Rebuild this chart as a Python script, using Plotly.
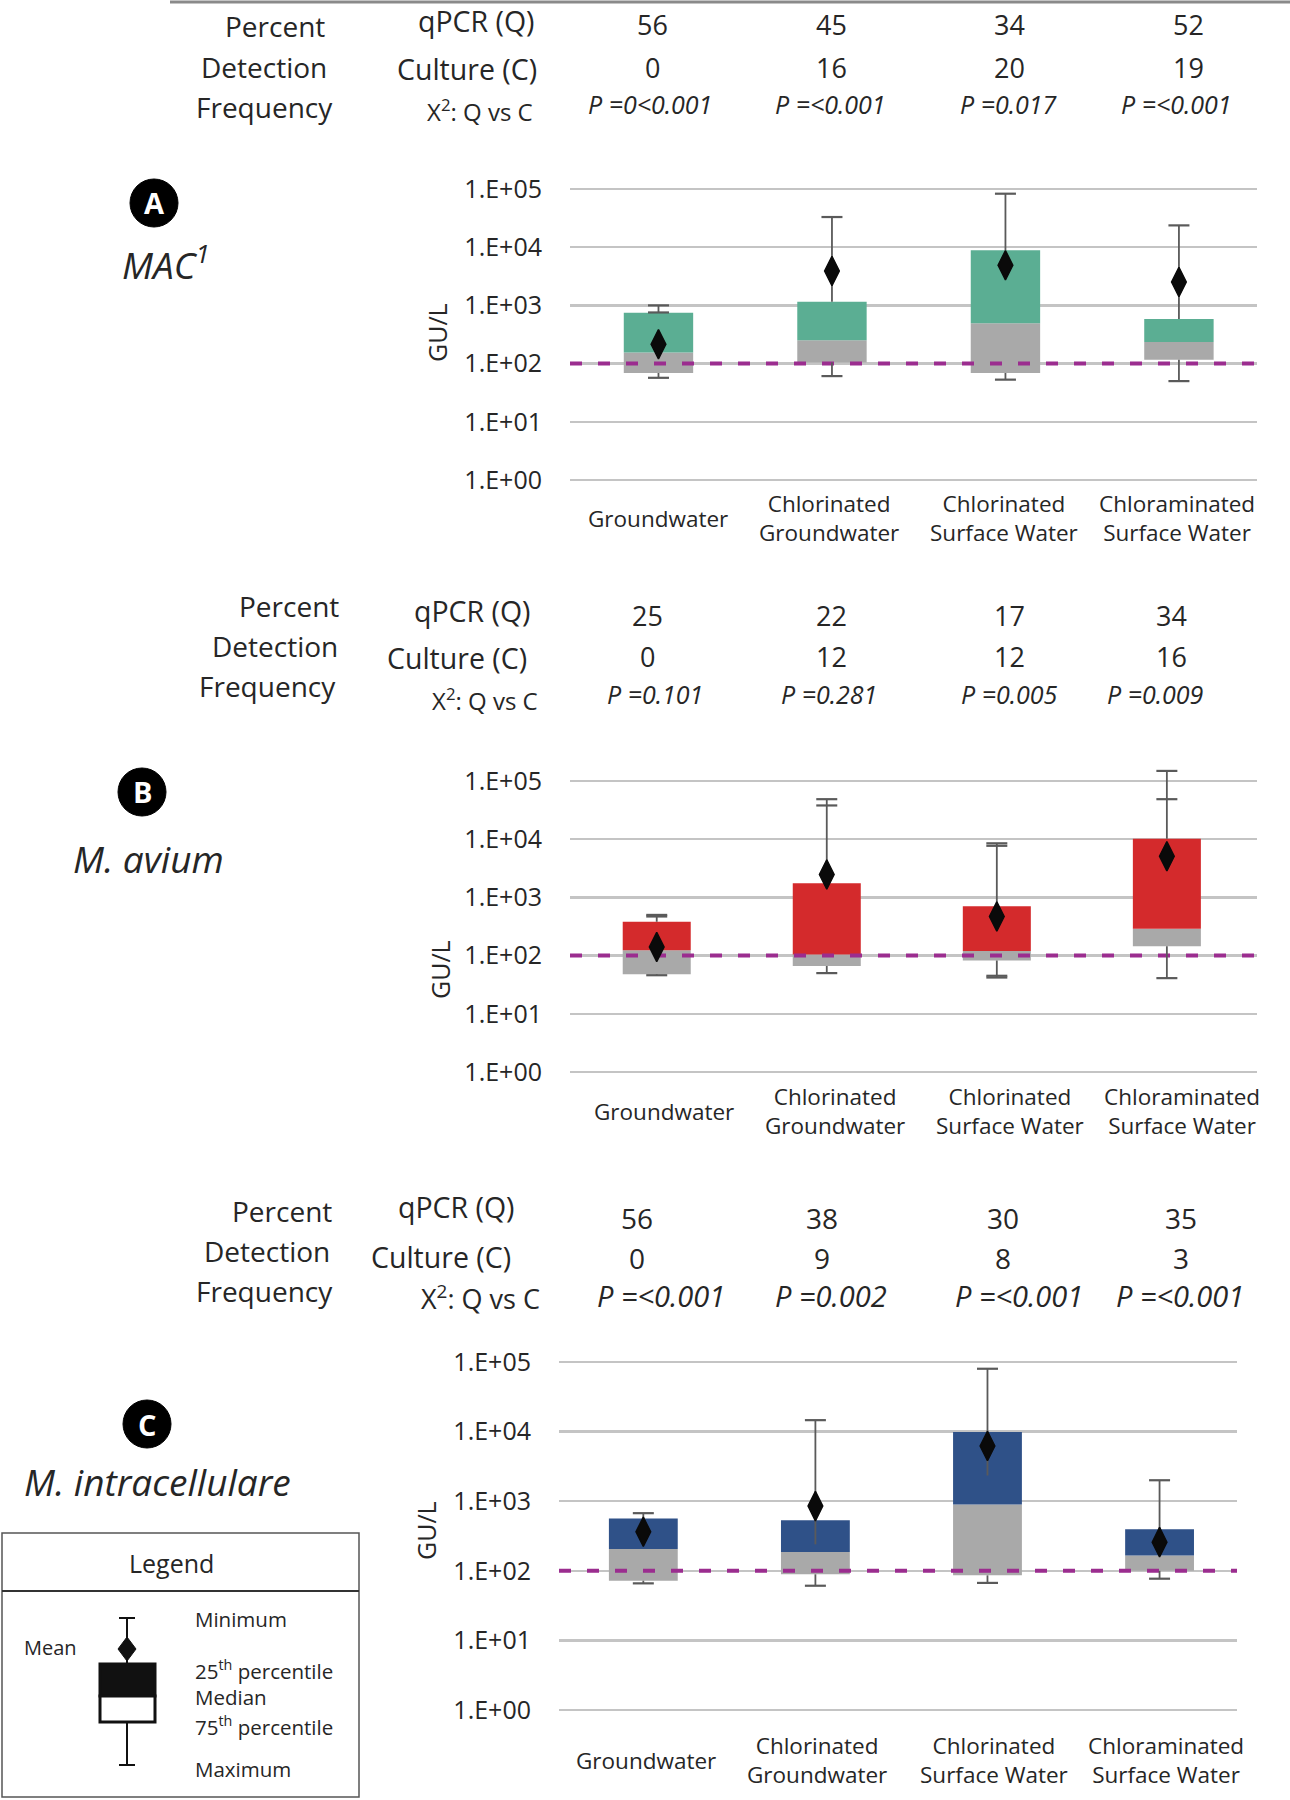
import plotly.graph_objects as go

W, H = 1290, 1800

# ---------------- data ----------------
categories = ["Groundwater", "Chlorinated<br>Groundwater",
              "Chlorinated<br>Surface Water", "Chloraminated<br>Surface Water"]
y_tick_vals = [1, 10, 100, 1000, 10000, 100000]
y_tick_text = ["1.E+00", "1.E+01", "1.E+02", "1.E+03", "1.E+04", "1.E+05"]
detection_limit = 100

# Panel A: MAC
mac_min = [57, 61, 53, 50]
mac_q1 = [69, 104, 69, 117]
mac_median = [155, 252, 494, 236]
mac_q3 = [745, 1150, 8900, 585]
mac_max = [1000, 33000, 83000, 23700]
mac_mean = [215, 3900, 4900, 2530]
mac_extra_cap = [756, None, None, None]
mac_qpcr = ["56", "45", "34", "52"]
mac_culture = ["0", "16", "20", "19"]
mac_p = ["P =0<0.001", "P =<0.001", "P =0.017", "P =<0.001"]

# Panel B: M. avium
avium_min = [46, 50, 42, 41]
avium_q1 = [48, 66, 82, 145]
avium_median = [124, 104, 120, 288]
avium_q3 = [380, 1750, 705, 10200]
avium_max = [500, 48700, 8500, 149000]
avium_mean = [141, 2480, 469, 5100]
avium_extra_cap = [470, 38000, 7700, 48700]
avium_extra_low_cap = [None, None, 45, None]
avium_qpcr = ["25", "22", "17", "34"]
avium_culture = ["0", "12", "12", "16"]
avium_p = ["P =0.101", "P =0.281", "P =0.005", "P =0.009"]

# Panel C: M. intracellulare
intra_min = [66, 61, 67, 77]
intra_q1 = [72, 89, 86, 100]
intra_median = [205, 187, 895, 166]
intra_q3 = [565, 533, 9900, 396]
intra_max = [673, 14600, 80000, 2000]
intra_mean = [363, 850, 6200, 258]
intra_mean_err_low = [None, 240, 2340, None]
intra_qpcr = ["56", "38", "30", "35"]
intra_culture = ["0", "9", "8", "3"]
intra_p = ["P =<0.001", "P =0.002", "P =<0.001", "P =<0.001"]

# ---------------- styling ----------------
FONT = "Open Sans"
TXT = "#262626"
GRAY = "#A9A9A9"
WHISK = "#5A5A5A"
DASH = "#9B2D8F"
GRID = "#C4C4C4"


def px(x):
    return x / W


def py(y):
    return 1 - y / H


panels = [
    dict(name="A", label="<i>MAC<sup>1</sup></i>", color="#5BAE93",
         mn=mac_min, q1=mac_q1, med=mac_median, q3=mac_q3, mx=mac_max, mean=mac_mean,
         errlo=[None] * 4, cap2=mac_extra_cap, cap2lo=[None] * 4,
         qpcr=mac_qpcr, cult=mac_culture, p=mac_p,
         xl=570, xr=1257, xrange=[-0.51, 3.45], y5=189, y0=480, catY=518, labshift=[0, -3, -1, -2],
         gul=(437, 333), circ=(154, 203), lab=(166, 262),
         rows=[("Percent", 275, 26), ("Detection", 264, 67), ("Frequency", 264, 107)],
         rowl=[("qPCR (Q)", 476, 21, 28.5), ("Culture (C)", 467, 69, 28.5), ("X<sup>2</sup>: Q vs C", 480, 110, 24)],
         colx=[652, 831, 1010, 1188], pcolx=[650, 830, 1009, 1176], rowy=[25, 67, 104], psize=25, vsize=27),
    dict(name="B", label="<i>M. avium</i>", color="#D42A2C",
         mn=avium_min, q1=avium_q1, med=avium_median, q3=avium_q3, mx=avium_max, mean=avium_mean,
         errlo=[None] * 4, cap2=avium_extra_cap, cap2lo=avium_extra_low_cap,
         qpcr=avium_qpcr, cult=avium_culture, p=avium_p,
         xl=570, xr=1257, xrange=[-0.51, 3.53], y5=781, y0=1072, catY=1111, labshift=[7, 8, 13, 15],
         gul=(440, 970), circ=(142, 792), lab=(148, 858),
         rows=[("Percent", 289, 606), ("Detection", 275, 646), ("Frequency", 267, 686)],
         rowl=[("qPCR (Q)", 473, 611, 28.5), ("Culture (C)", 457, 658, 28.5), ("X<sup>2</sup>: Q vs C", 485, 699, 24)],
         colx=[647, 831, 1010, 1171], pcolx=[655, 829, 1009, 1155], rowy=[615, 656, 694], psize=25, vsize=27),
    dict(name="C", label="<i>M. intracellulare</i>", color="#2F5188",
         mn=intra_min, q1=intra_q1, med=intra_median, q3=intra_q3, mx=intra_max, mean=intra_mean,
         errlo=intra_mean_err_low, cap2=[None] * 4, cap2lo=[None] * 4,
         qpcr=intra_qpcr, cult=intra_culture, p=intra_p,
         xl=559, xr=1237, xrange=[-0.49, 3.45], y5=1362, y0=1710, catY=1760, labshift=[3, 2, 7, 6],
         gul=(426, 1531), circ=(147, 1424), lab=(157, 1481),
         rows=[("Percent", 282, 1211), ("Detection", 267, 1251), ("Frequency", 264, 1291)],
         rowl=[("qPCR (Q)", 456, 1207, 28.5), ("Culture (C)", 441, 1257, 28.5), ("X<sup>2</sup>: Q vs C", 480, 1297, 27)],
         colx=[637, 822, 1003, 1181], pcolx=[661, 831, 1019, 1180], rowy=[1218, 1258, 1295], psize=29, vsize=28),
]

fig = go.Figure()
annotations = []
shapes = []
PAD_LO = 0.03
PAD_HI = 0.22
BW = 0.4
xs = list(range(len(categories)))

for k, pnl in enumerate(panels):
    sfx = "" if k == 0 else str(k + 1)
    xa, ya = "x" + sfx, "y" + sfx
    ppu = (pnl["y0"] - pnl["y5"]) / 5.0
    dom_top = pnl["y5"] - PAD_HI * ppu
    dom_bot = pnl["y0"] + PAD_LO * ppu
    xr0, xr1 = pnl["xrange"]

    # lower part of box (q1 -> median), gray
    fig.add_trace(go.Bar(x=xs, y=[m - a for m, a in zip(pnl["med"], pnl["q1"])], base=pnl["q1"],
                         width=BW, marker=dict(color=GRAY, line=dict(width=0)),
                         xaxis=xa, yaxis=ya, showlegend=False, hoverinfo="skip"))
    # upper part of box (median -> q3), colored
    fig.add_trace(go.Bar(x=xs, y=[b - m for b, m in zip(pnl["q3"], pnl["med"])], base=pnl["med"],
                         width=BW, marker=dict(color=pnl["color"], line=dict(width=0)),
                         xaxis=xa, yaxis=ya, showlegend=False, hoverinfo="skip"))
    # dashed detection line
    fig.add_trace(go.Scatter(x=[xr0, xr1], y=[detection_limit, detection_limit], mode="lines",
                             line=dict(color=DASH, width=4, dash="12px,16px"),
                             xaxis=xa, yaxis=ya, showlegend=False, hoverinfo="skip"))
    # whiskers
    wx, wy = [], []
    for i in xs:
        top_from = pnl["errlo"][i] if pnl["errlo"][i] is not None else pnl["q3"][i]
        wx += [i, i, None, i, i, None]
        wy += [top_from, pnl["mx"][i], None, pnl["q1"][i], pnl["mn"][i], None]
    fig.add_trace(go.Scatter(x=wx, y=wy, mode="lines", line=dict(color=WHISK, width=1.8),
                             xaxis=xa, yaxis=ya, showlegend=False, hoverinfo="skip"))
    # caps
    cx_, cy_ = [], []
    for i in xs:
        cx_ += [i, i]
        cy_ += [pnl["mx"][i], pnl["mn"][i]]
        if pnl["cap2"][i] is not None:
            cx_.append(i)
            cy_.append(pnl["cap2"][i])
        if pnl["cap2lo"][i] is not None:
            cx_.append(i)
            cy_.append(pnl["cap2lo"][i])
    fig.add_trace(go.Scatter(x=cx_, y=cy_, mode="markers",
                             marker=dict(symbol="line-ew", size=15, line=dict(color=WHISK, width=2.2)),
                             xaxis=xa, yaxis=ya, showlegend=False, hoverinfo="skip", cliponaxis=False))
    # means
    fig.add_trace(go.Scatter(x=xs, y=pnl["mean"], mode="markers",
                             marker=dict(symbol="diamond-tall", size=21, color="#0A0A0A",
                                         line=dict(color="#0A0A0A", width=1.5)),
                             xaxis=xa, yaxis=ya, showlegend=False, hoverinfo="skip"))

    fig.layout["xaxis" + sfx] = dict(domain=[px(pnl["xl"]), px(pnl["xr"])], range=[xr0, xr1],
                                     anchor=ya, showgrid=False, zeroline=False, showline=False,
                                     showticklabels=False, ticks="", fixedrange=True)
    fig.layout["yaxis" + sfx] = dict(domain=[py(dom_bot), py(dom_top)], type="log",
                                     range=[-PAD_LO, 5 + PAD_HI], anchor=xa,
                                     tickvals=y_tick_vals, ticktext=y_tick_text,
                                     showgrid=True, gridcolor=GRID, gridwidth=2.5,
                                     zeroline=False, showline=False, ticks="",
                                     ticklabelstandoff=27,
                                     tickfont=dict(family=FONT, size=25, color=TXT))

    # category labels
    for i, c in enumerate(categories):
        annotations.append(dict(x=i, y=py(pnl["catY"]), xref=xa, yref="paper", text=c,
                                xshift=pnl["labshift"][i],
                                showarrow=False, xanchor="center", yanchor="middle",
                                font=dict(family=FONT, size=22.5, color=TXT)))
    # GU/L
    annotations.append(dict(x=px(pnl["gul"][0]), y=py(pnl["gul"][1]), xref="paper", yref="paper",
                            text="GU/L", textangle=-90, showarrow=False,
                            xanchor="center", yanchor="middle",
                            font=dict(family=FONT, size=25, color=TXT)))
    # table left labels
    for t, x, y in pnl["rows"]:
        annotations.append(dict(x=px(x), y=py(y), xref="paper", yref="paper", text=t,
                                showarrow=False, xanchor="center", yanchor="middle",
                                font=dict(family=FONT, size=28, color=TXT)))
    for t, x, y, s in pnl["rowl"]:
        annotations.append(dict(x=px(x), y=py(y), xref="paper", yref="paper", text=t,
                                showarrow=False, xanchor="center", yanchor="middle",
                                font=dict(family=FONT, size=s, color=TXT)))
    # table values
    for j in xs:
        annotations.append(dict(x=px(pnl["colx"][j]), y=py(pnl["rowy"][0]), xref="paper", yref="paper",
                                text=pnl["qpcr"][j], showarrow=False, xanchor="center", yanchor="middle",
                                font=dict(family=FONT, size=pnl["vsize"], color=TXT)))
        annotations.append(dict(x=px(pnl["colx"][j]), y=py(pnl["rowy"][1]), xref="paper", yref="paper",
                                text=pnl["cult"][j], showarrow=False, xanchor="center", yanchor="middle",
                                font=dict(family=FONT, size=pnl["vsize"], color=TXT)))
        annotations.append(dict(x=px(pnl["pcolx"][j]), y=py(pnl["rowy"][2]), xref="paper", yref="paper",
                                text="<i>" + pnl["p"][j] + "</i>", showarrow=False,
                                xanchor="center", yanchor="middle",
                                font=dict(family=FONT, size=pnl["psize"], color=TXT)))
    # panel letter circle
    cx, cy = pnl["circ"]
    r = 24
    shapes.append(dict(type="circle", xref="paper", yref="paper",
                       x0=px(cx - r), x1=px(cx + r), y0=py(cy + r), y1=py(cy - r),
                       fillcolor="#000000", line=dict(color="#000000", width=1)))
    annotations.append(dict(x=px(cx), y=py(cy), xref="paper", yref="paper",
                            text="<b>" + pnl["name"] + "</b>", showarrow=False,
                            xanchor="center", yanchor="middle",
                            font=dict(family=FONT, size=29, color="#FFFFFF")))
    annotations.append(dict(x=px(pnl["lab"][0]), y=py(pnl["lab"][1]), xref="paper", yref="paper",
                            text=pnl["label"], showarrow=False, xanchor="center", yanchor="middle",
                            font=dict(family=FONT, size=37, color=TXT)))

# top rule
shapes.append(dict(type="line", xref="paper", yref="paper", x0=px(170), x1=1, y0=py(2), y1=py(2),
                   line=dict(color="#8A8A8A", width=3)))

# ---------------- legend box ----------------
shapes.append(dict(type="rect", xref="paper", yref="paper", x0=px(2), x1=px(359), y0=py(1797), y1=py(1533),
                   line=dict(color="#555555", width=1.5), fillcolor="rgba(0,0,0,0)"))
shapes.append(dict(type="line", xref="paper", yref="paper", x0=px(2), x1=px(359), y0=py(1591), y1=py(1591),
                   line=dict(color="#333333", width=2)))
annotations.append(dict(x=px(171), y=py(1563), xref="paper", yref="paper", text="Legend",
                        showarrow=False, xanchor="center", yanchor="middle",
                        font=dict(family=FONT, size=25, color=TXT)))
gx = 127
for (ya0, ya1) in [(1618, 1664), (1722, 1765)]:
    shapes.append(dict(type="line", xref="paper", yref="paper", x0=px(gx), x1=px(gx), y0=py(ya0), y1=py(ya1),
                       line=dict(color="#111111", width=2)))
for yc in [1618, 1765]:
    shapes.append(dict(type="line", xref="paper", yref="paper", x0=px(gx - 8), x1=px(gx + 8), y0=py(yc), y1=py(yc),
                       line=dict(color="#111111", width=2)))
shapes.append(dict(type="rect", xref="paper", yref="paper", x0=px(100), x1=px(155), y0=py(1696), y1=py(1664),
                   line=dict(color="#111111", width=3), fillcolor="#111111"))
shapes.append(dict(type="rect", xref="paper", yref="paper", x0=px(100), x1=px(155), y0=py(1722), y1=py(1696),
                   line=dict(color="#111111", width=3), fillcolor="#FFFFFF"))
dx, dy = 9, 12
dcy = 1649
shapes.append(dict(type="path", xref="paper", yref="paper",
                   path="M {a},{b} L {c},{d} L {e},{f} L {g},{h} Z".format(
                       a=px(gx), b=py(dcy - dy), c=px(gx + dx), d=py(dcy),
                       e=px(gx), f=py(dcy + dy), g=px(gx - dx), h=py(dcy)),
                   fillcolor="#111111", line=dict(color="#111111", width=1)))
legend_items = [("Minimum", 1619), ("25<sup>th</sup> percentile", 1670), ("Median", 1697),
                ("75<sup>th</sup> percentile", 1726), ("Maximum", 1769)]
for t, y in legend_items:
    annotations.append(dict(x=px(193), y=py(y), xref="paper", yref="paper", text=t,
                            showarrow=False, xanchor="left", yanchor="middle",
                            font=dict(family=FONT, size=20.5, color=TXT)))
annotations.append(dict(x=px(50), y=py(1647), xref="paper", yref="paper", text="Mean",
                        showarrow=False, xanchor="center", yanchor="middle",
                        font=dict(family=FONT, size=20, color=TXT)))

fig.update_layout(width=W, height=H, margin=dict(l=0, r=0, t=0, b=0, pad=0, autoexpand=False),
                  paper_bgcolor="#FFFFFF", plot_bgcolor="#FFFFFF",
                  barmode="overlay", showlegend=False,
                  annotations=annotations, shapes=shapes,
                  font=dict(family=FONT, color=TXT))

fig.write_html("out.html", config={"displayModeBar": False, "staticPlot": True},
               post_script="document.body.style.margin='0px';document.body.style.overflow='hidden';")
